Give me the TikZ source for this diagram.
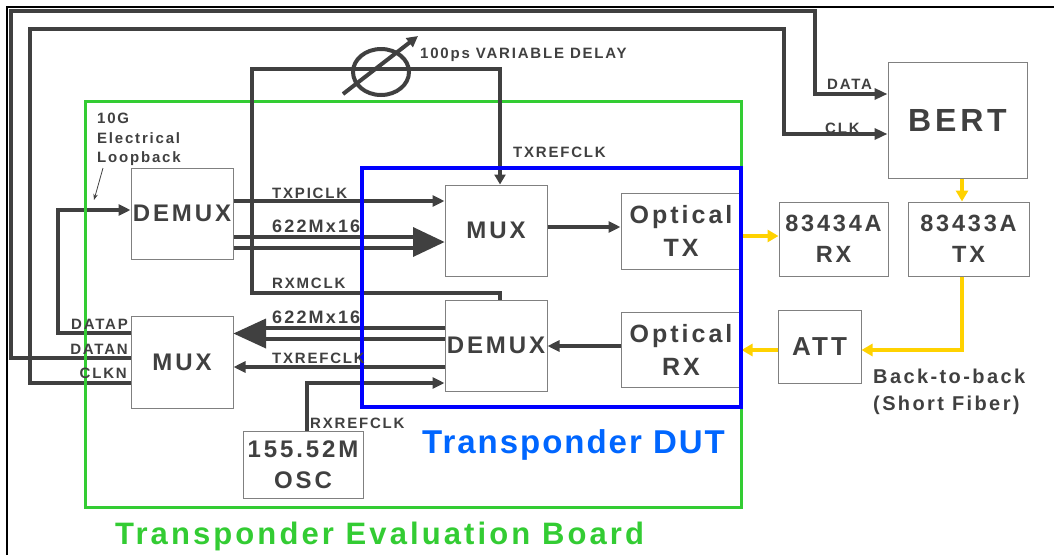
\documentclass[tikz,border=0pt]{standalone}
\usepackage{fontspec}
\setmainfont{Liberation Sans}
\newfontfamily\lsA{Liberation Sans}[LetterSpace=12]
\newfontfamily\lsB{Liberation Sans}[LetterSpace=10]
\newfontfamily\lsC{Liberation Sans}[LetterSpace=6]
\usetikzlibrary{arrows.meta,shapes.geometric}
\newcommand\fsz[2]{\fontsize{#1}{#2}\selectfont}
\definecolor{txt}{HTML}{404040}
\definecolor{boxgray}{HTML}{808080}
\definecolor{grn}{HTML}{33CC33}
\definecolor{blu}{HTML}{0000FF}
\definecolor{dutblue}{HTML}{0066FF}
\definecolor{ylw}{HTML}{FFD200}
\tikzset{
  box/.style={draw=boxgray, line width=1pt, fill=white, inner sep=0pt, text=txt, align=center, font=\lsA\bfseries\fsz{24}{31}},
  lab/.style={inner sep=0pt, text=txt, font=\lsA\bfseries\fsz{15}{19.5}},
  loopw/.style={draw=txt, line width=4.5pt, line join=miter},
  wire/.style={draw=txt, line width=4pt, line join=miter},
  yline/.style={draw=ylw, line width=4pt, line join=miter},
  tip/.style={-{Triangle[length=12pt,width=11pt]}},
  ytip/.style={-{Triangle[length=11pt,width=12pt]}}
}
\begin{document}
\begin{tikzpicture}[x=1pt,y=-1pt]
\useasboundingbox (0,0) rectangle (1054,555);
% thin outer frame
\draw[black, line width=1.2pt] (7,555) -- (7,7) -- (1054,7);
% evaluation board
\draw[grn, line width=3pt] (85,101) rectangle (741,507);
% blocks
\node[box, minimum width=102, minimum height=91] (demuxA) at (182,213.5) {DEMUX};
\node[box, minimum width=102, minimum height=91] (muxA) at (496,230.5) {MUX};
\node[box, minimum width=120, minimum height=76, font=\lsA\bfseries\fsz{25}{33}] (otx) at (681,231) {Optical\\TX};
\node[box, minimum width=109, minimum height=74, font=\lsA\bfseries\fsz{23.5}{31}] (rxa) at (833.5,239) {83434A\\RX};
\node[box, minimum width=121, minimum height=74, font=\lsA\bfseries\fsz{23.5}{31}] (txa) at (968.5,239) {83433A\\TX};
\node[box, minimum width=139, minimum height=116, font=\lsA\bfseries\fsz{32}{36}] (bert) at (957.5,120) {BERT};
\node[box, minimum width=102, minimum height=91] (demuxB) at (496,345.5) {DEMUX};
\node[box, minimum width=120, minimum height=75, font=\lsA\bfseries\fsz{25}{33}] (orx) at (681,349.5) {Optical\\RX};
\node[box, minimum width=83, minimum height=73, font=\lsA\bfseries\fsz{26}{30}] (att) at (819.5,346.5) {ATT};
\node[box, minimum width=102, minimum height=92] (muxB) at (182,362) {MUX};
\node[box, minimum width=120, minimum height=67] (osc) at (303,464.5) {155.52M\\OSC};
% long loops to BERT
\draw[loopw, -{Triangle[length=13pt,width=11pt]}] (muxB.west |- 0,358) -| (11,11) -| (815,94) -- (bert.west |- 0,94);
\draw[loopw, -{Triangle[length=13pt,width=11pt]}] (muxB.west |- 0,383) -| (30,29) -| (784,134) -- (bert.west |- 0,134);
% electrical loopback
\draw[wire, tip] (muxB.west |- 0,333) -| (58,210) -- (demuxA.west |- 0,210);
% TXPICLK
\draw[wire, tip] (demuxA.east |- 0,201) -- (muxA.west |- 0,201);
% 622Mx16 upper bus
\draw[wire] (demuxA.east |- 0,236.5) -- (413,236.5);
\draw[wire] (demuxA.east |- 0,247.5) -- (413,247.5);
\fill[txt] (413,227) -- (muxA.west |- 0,242) -- (413,257) -- cycle;
% 622Mx16 lower bus
\draw[wire] (demuxB.west |- 0,328) -- (266,328);
\draw[wire] (demuxB.west |- 0,339) -- (266,339);
\fill[txt] (266,318.5) -- (muxB.east |- 0,333.5) -- (266,348.5) -- cycle;
% TXREFCLK lower
\draw[wire, tip] (demuxB.west |- 0,367) -- (muxB.east |- 0,367);
% RXREFCLK
\draw[wire, tip] (osc.north -| 307,0) |- (demuxB.west |- 0,383);
% RXMCLK -> delay -> TXREFCLK
\draw[wire, -{Triangle[length=10pt,width=11pt]}] (demuxB.north -| 500,0) |- (252,293) |- (500,69) -- (muxA.north -| 500,0);
\node[draw=txt, line width=4pt, ellipse, minimum width=56, minimum height=46, inner sep=0pt] (delay) at (381,72) {};
\coordinate (dlA) at (343,94);
\coordinate (dlB) at (418,36);
\draw[wire, -{Triangle[length=11pt,width=11pt]}] (dlA) -- (dlB);
% MUX -> Optical TX, Optical RX -> DEMUX
\draw[wire, tip] (muxA.east |- 0,227) -- (otx.west |- 0,227);
\draw[wire, tip] (orx.west |- 0,346) -- (demuxB.east |- 0,346);
% optical (yellow)
\draw[yline, ytip] (otx.east |- 0,236) -- (rxa.west |- 0,236);
\draw[yline, ytip] (bert.south -| 962,0) -- (txa.north -| 962,0);
\draw[yline, ytip] (txa.south -| 962,0) |- (att.east |- 0,350);
\draw[yline, ytip] (att.west |- 0,350) -- (orx.east |- 0,350);
% board edges on top
\draw[grn, line width=3pt] (85,101) -- (85,507);
\draw[blu, line width=3.5pt] (362,168) rectangle (741,407);
% labels
\node[lab, anchor=base west] (lData) at (827,89) {DATA};
\node[lab, anchor=base west] (lClk) at (825,133) {CLK};
\node[lab, anchor=base west] (lDelay) at (420,58) {100ps VARIABLE DELAY};
\node[lab, anchor=base west] (lTxref) at (513,157) {TXREFCLK};
\node[lab, anchor=north west, align=left] (lLoop) at (97,113) {10G\\Electrical\\Loopback};
\coordinate (loopTip) at (94,200);
\draw[txt, line width=0.8pt, -{Stealth[length=6pt,width=4.5pt]}] (103,168) -- (loopTip);
\node[lab, anchor=base west] (lTxpi) at (272,198) {TXPICLK};
\node[lab, anchor=base west, font=\lsA\bfseries\fsz{18}{20}] (lBusA) at (272,232) {622Mx16};
\node[lab, anchor=base west] (lRxm) at (272,288) {RXMCLK};
\node[lab, anchor=base west, font=\lsA\bfseries\fsz{18}{20}] (lBusB) at (272,323) {622Mx16};
\node[lab, anchor=base west] (lTxrefB) at (272,363) {TXREFCLK};
\node[lab, anchor=base east] (lDatap) at (128,329) {DATAP};
\node[lab, anchor=base east] (lDatan) at (128,354) {DATAN};
\node[lab, anchor=base east] (lClkn) at (127,378) {CLKN};
\node[lab, anchor=base west] (lRxref) at (310,428) {RXREFCLK};
\node[lab, anchor=north west, align=left, font=\lsA\bfseries\fsz{20}{27}] (lB2b) at (873,369) {Back-to-back\\(Short Fiber)};
\node[anchor=base west, inner sep=0pt, text=dutblue, font=\lsC\bfseries\fsz{33}{36}] (lDut) at (422,453) {Transponder DUT};
\node[anchor=base west, inner sep=0pt, text=grn, font=\lsB\bfseries\fsz{31}{34}] (lBoard) at (115,544) {Transponder Evaluation Board};
\end{tikzpicture}
\end{document}
